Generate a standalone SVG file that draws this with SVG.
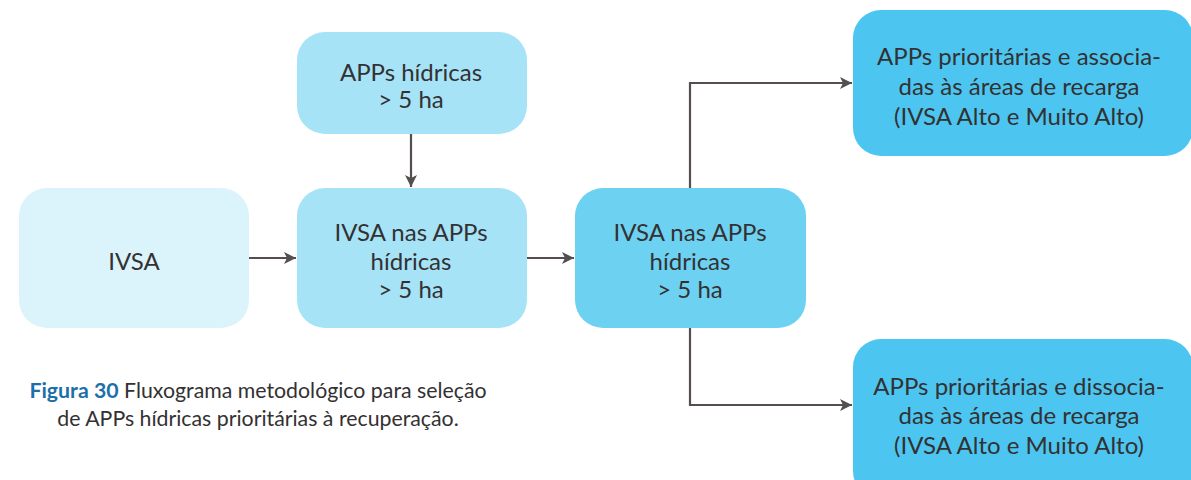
<svg xmlns="http://www.w3.org/2000/svg" width="1191" height="480" viewBox="0 0 1191 480">
<style>
.t{font-family:Lato,"Open Sans",sans-serif;font-size:24px;fill:#333132;text-anchor:middle}
.c{font-family:Lato,"Open Sans",sans-serif;font-size:21.3px;fill:#333132;text-anchor:middle}
.ln{fill:none;stroke:#544e4e;stroke-width:2.2}
</style>
<defs>
<marker id="ah" viewBox="0 0 10 10" refX="10" refY="5" markerWidth="13" markerHeight="12" markerUnits="userSpaceOnUse" orient="auto">
<path d="M0,0 L10,5 L0,10 L2.5,5 Z" fill="#544e4e"/>
</marker>
</defs>
<rect width="1191" height="480" fill="#ffffff"/>
<g id="connectors">
<path class="ln" d="M249,258 H296" marker-end="url(#ah)"/>
<path class="ln" d="M527,258 H574" marker-end="url(#ah)"/>
<path class="ln" d="M411,133 V187" marker-end="url(#ah)"/>
<path class="ln" d="M690,188 V83 H852" marker-end="url(#ah)"/>
<path class="ln" d="M690,328 V405 H852" marker-end="url(#ah)"/>
</g>
<g id="n-ivsa">
<rect x="19" y="188" width="230" height="140" rx="28" fill="#dbf3fb"/>
<text class="t" x="134" y="270">IVSA</text>
</g>
<g id="n-apps">
<rect x="297" y="32" width="230" height="102" rx="28" fill="#a6e3f7"/>
<text class="t" x="411" y="81">APPs hídricas</text>
<text class="t" x="411" y="108">&gt; 5 ha</text>
</g>
<g id="n-ivsa-apps1">
<rect x="297" y="188" width="230" height="140" rx="28" fill="#a6e3f7"/>
<text class="t" x="411" y="241">IVSA nas APPs</text>
<text class="t" x="411" y="270">hídricas</text>
<text class="t" x="411" y="298">&gt; 5 ha</text>
</g>
<g id="n-ivsa-apps2">
<rect x="575" y="188" width="231" height="140" rx="28" fill="#6dd1f2"/>
<text class="t" x="690" y="241">IVSA nas APPs</text>
<text class="t" x="690" y="270">hídricas</text>
<text class="t" x="690" y="298">&gt; 5 ha</text>
</g>
<g id="n-assoc">
<rect x="853" y="10" width="340" height="146" rx="28" fill="#4cc6f0"/>
<text class="t" x="1019" y="65">APPs prioritárias e associa-</text>
<text class="t" x="1019" y="95">das às áreas de recarga</text>
<text class="t" x="1019" y="125">(IVSA Alto e Muito Alto)</text>
</g>
<g id="n-dissoc">
<rect x="853" y="339" width="340" height="160" rx="28" fill="#4cc6f0"/>
<text class="t" x="1019" y="395">APPs prioritárias e dissocia-</text>
<text class="t" x="1019" y="424">das às áreas de recarga</text>
<text class="t" x="1019" y="454">(IVSA Alto e Muito Alto)</text>
</g>
<g id="caption">
<text class="c" x="258" y="398"><tspan font-weight="bold" fill="#1d6fa9">Figura 30</tspan> Fluxograma metodológico para seleção</text>
<text class="c" x="258" y="426">de APPs hídricas prioritárias à recuperação.</text>
</g>
</svg>
